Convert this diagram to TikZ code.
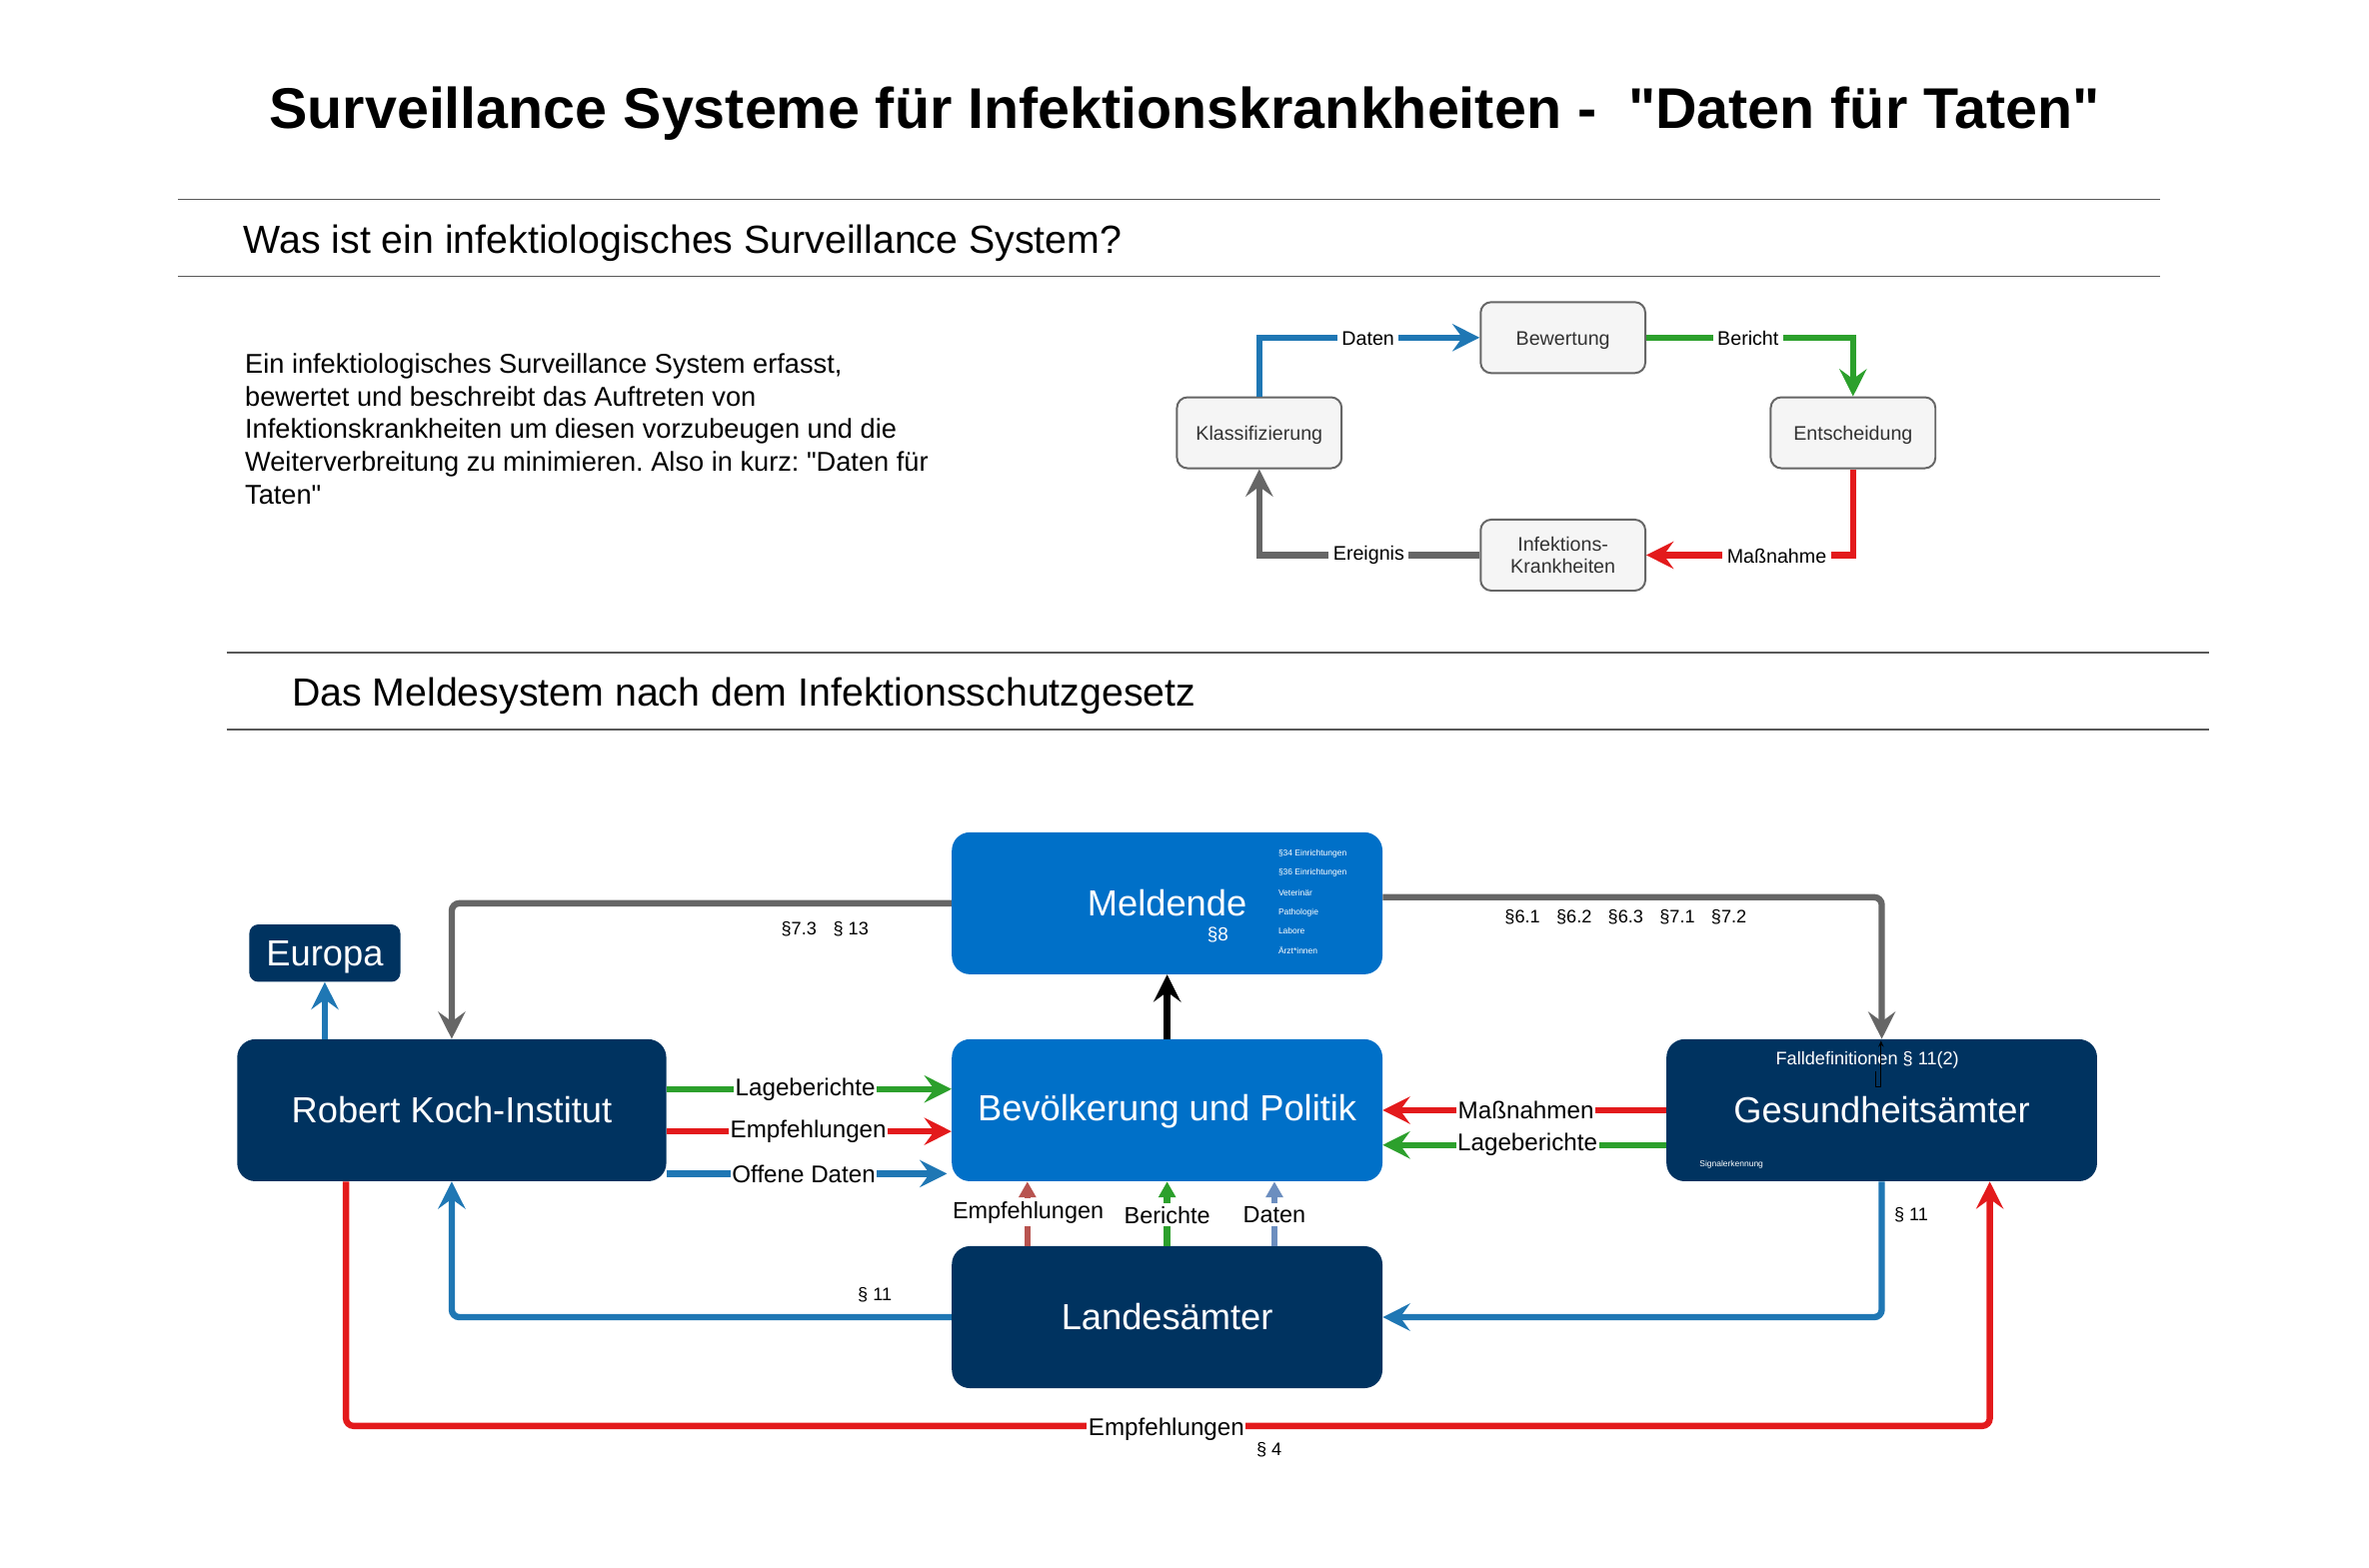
\documentclass[tikz,border=0pt]{standalone}
\usepackage{fontspec}
\setmainfont{Liberation Sans}[Ligatures=TeXOff]
\usetikzlibrary{arrows.meta}
\definecolor{mblue}{RGB}{0,112,200}
\definecolor{navy}{RGB}{0,51,96}
\definecolor{cblue}{RGB}{31,119,180}
\definecolor{cgreen}{RGB}{44,160,44}
\definecolor{cred}{RGB}{227,26,28}
\definecolor{cgray}{RGB}{102,102,102}
\definecolor{lred}{RGB}{184,84,80}
\definecolor{lblue}{RGB}{108,142,191}
\definecolor{boxfill}{RGB}{245,245,245}
\newcommand{\fs}[1]{\fontsize{#1}{1.2\dimexpr #1pt\relax}\selectfont}
\newcommand{\dq}{\symbol{34}}
\frenchspacing
\tikzset{
  cbox/.style={rectangle, rounded corners=7pt, draw=cgray, line width=1.3pt, fill=boxfill,
    minimum width=109pt, minimum height=47pt, inner sep=0pt, text=black!80, font=\fs{13}},
  cboxt/.style={cbox, text height=13pt, text depth=2.7pt},
  bbox/.style={rectangle, rounded corners=12pt, minimum width=285pt, minimum height=94pt,
    inner sep=0pt, text=white, font=\fs{24}},
  arr/.style={line width=4.2pt, -{Stealth[length=18pt,width=18pt,inset=6.5pt]}},
  stub/.style={line width=4.2pt, -{Triangle[length=10.5pt,width=11pt]}},
  lab/.style={fill=white, inner xsep=1pt, inner ysep=2pt, font=\fs{16}},
  clab/.style={fill=white, inner xsep=3pt, inner ysep=2pt, font=\fs{13}},
  para/.style={inner sep=0pt, font=\fs{12}},
  hrule/.style={line width=0.9pt, draw=black!65}
}
\begin{document}
\begin{tikzpicture}[x=1pt, y=-1pt]
\path[use as bounding box] (0,0) rectangle (1568,1037.4);
% title and headings
\node[font=\bfseries\fs{38}] (title) at (784,75) {Surveillance Systeme für Infektionskrankheiten -\ \ \dq Daten für Taten\dq};
\draw[hrule] (118,132) -- (1430,132);
\draw[hrule] (118,183) -- (1430,183);
\node[anchor=west, font=\fs{26}, inner sep=0pt] (h1) at (161,161) {Was ist ein infektiologisches Surveillance System?};
\node[anchor=north west, align=left, inner sep=0pt, font=\fontsize{18}{21.6}\selectfont] (txt) at (162,234)
 {Ein infektiologisches Surveillance System erfasst,\\
  bewertet und beschreibt das Auftreten von\\
  Infektionskrankheiten um diesen vorzubeugen und die\\
  Weiterverbreitung zu minimieren. Also in kurz: \dq Daten für\\
  Taten\dq};
\draw[hrule] (150,432) -- (1462,432);
\draw[hrule] (150,483) -- (1462,483);
\node[anchor=west, font=\fs{26}, inner sep=0pt] (h2) at (193,460.5) {Das Meldesystem nach dem Infektionsschutzgesetz};

% cycle
\node[cboxt] (bew) at (1034.5,223.5) {Bewertung};
\node[cboxt] (kla) at (833.5,286.5) {Klassifizierung};
\node[cboxt] (ent) at (1226.5,286.5) {Entscheidung};
\node[cbox, align=center, font=\fontsize{13}{15}\selectfont] (inf) at (1034.5,367.5) {Infektions-\\Krankheiten};
\draw[arr, cblue] (kla.north) |- (bew.west);
\draw[arr, cgreen] (bew.east) -| (ent.north);
\draw[arr, cred] (ent.south) |- (inf.east);
\draw[arr, cgray] (inf.west) -| (kla.south);
\node[clab] (ldaten) at (905.5,224) {Daten};
\node[clab] (lbericht) at (1157,224) {Bericht};
\node[clab] (lmass) at (1176,368) {Maßnahme};
\node[clab] (lereig) at (906,367.5) {Ereignis};

% bottom boxes
\node[bbox, fill=mblue] (mel) at (772.5,598) {Meldende};
\node[font=\fs{12.5}, text=white, inner sep=0pt] (p8) at (806,619) {§8};
\foreach \t/\y [count=\i] in {§34 Einrichtungen/565, §36 Einrichtungen/578, Veterinär/591, Pathologie/604, Labore/616, Ärzt*innen/629}
  \node[anchor=west, inner sep=0pt, text=white, font=\fs{5.6}] (ml\i) at (846,\y) {\t};
\node[rectangle, rounded corners=6pt, fill=navy, minimum width=100pt, minimum height=38pt, inner sep=0pt, text=white, font=\fs{24}, text height=22pt] (eur) at (215,631) {Europa};
\node[bbox, fill=navy, minimum width=284pt] (rki) at (299,735) {Robert Koch-Institut};
\node[bbox, fill=mblue, text height=19pt] (bev) at (772.5,735) {Bevölkerung und Politik};
\node[bbox, fill=navy] (ges) at (1245.5,735) {Gesundheitsämter};
\node[bbox, fill=navy] (lan) at (772.5,872) {Landesämter};
\node[font=\fs{12}, text=white, inner sep=0pt] (fall) at (1236,702) {Falldefinitionen § 11(2)};
\node[font=\fs{5.6}, text=white, inner sep=0pt] (sig) at (1146,771) {Signalerkennung};

% helper coordinates
\coordinate (y594) at (0,594);
\coordinate (y721) at (0,721);
\coordinate (y749) at (0,749);
\coordinate (y777) at (0,777);
\coordinate (y758) at (0,758);
\coordinate (y944) at (0,944);
\coordinate (x680) at (680,0);
\coordinate (x772) at (772.5,0);
\coordinate (x843) at (843.5,0);
\coordinate (x229) at (229,0);
\coordinate (x1317) at (1317,0);
\coordinate (ka) at (1241.6,709);
\coordinate (kb) at (1245,719.4);
\coordinate (kc) at (1245,689);

% connectors
\draw[arr, cgray, rounded corners=5pt] (mel.west) -| (rki.north);
\draw[arr, cgray, rounded corners=5pt] (mel.east |- y594) -| (ges.north);
\draw[arr, black] (bev.north) -- (mel.south);
\draw[arr, cblue] (eur.south |- rki.north) -- (eur.south);
\draw[arr, cgreen] (rki.east |- y721) -- (bev.west |- y721);
\draw[arr, cred] (rki.east |- y749) -- (bev.west |- y749);
\draw[arr, cblue] (rki.east |- y777) -- ([xshift=-3pt]bev.west |- y777);
\draw[arr, cred] (ges.west) -- (bev.east);
\draw[arr, cgreen] (ges.west |- y758) -- (bev.east |- y758);
\draw[stub, lred] (x680 |- lan.north) -- (x680 |- bev.south);
\draw[stub, cgreen] (x772 |- lan.north) -- (x772 |- bev.south);
\draw[stub, lblue] (x843 |- lan.north) -- (x843 |- bev.south);
\draw[arr, cblue, rounded corners=5pt] (lan.west) -| (rki.south);
\draw[arr, cblue, rounded corners=5pt] (ges.south) |- (lan.east);
\draw[arr, cred, rounded corners=5pt] (x229 |- rki.south) -- (x229 |- y944) -| (x1317 |- ges.south);
\draw[black, line width=0.8pt, -{Stealth[length=4pt,width=3.5pt]}] (ka) |- (kb) -- (kc);

% labels
\node[lab] (l1) at (533,721) {Lageberichte};
\node[lab] (l2) at (535,749) {Empfehlungen};
\node[lab] (l3) at (532,777) {Offene Daten};
\node[lab] (l4) at (1010,735) {Maßnahmen};
\node[lab] (l5) at (1011,758) {Lageberichte};
\node[lab, font=\fs{15.5}] (l6) at (680.5,802.5) {Empfehlungen};
\node[lab, font=\fs{15.5}] (l7) at (772.5,804.3) {Berichte};
\node[lab, font=\fs{15.5}] (l8) at (843.5,804.3) {Daten};
\node[lab] (l9) at (772,946) {Empfehlungen};
\node[para] (s1) at (546,615) {§7.3\hspace{11pt}§ 13};
\node[para] (s2) at (1076,607) {§6.1\hspace{10.8pt}§6.2\hspace{10.8pt}§6.3\hspace{10.8pt}§7.1\hspace{10.8pt}§7.2};
\node[para] (s3) at (579,857) {§ 11};
\node[para] (s4) at (1265,804) {§ 11};
\node[para] (s5) at (840,960) {§ 4};
\end{tikzpicture}
\end{document}
